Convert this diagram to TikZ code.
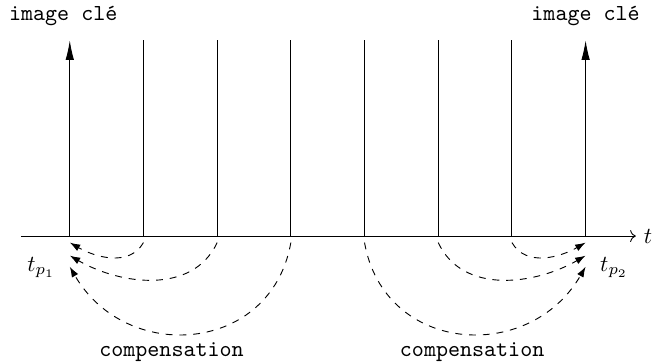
\documentclass[tikz,border=0pt]{standalone}
\usepackage{fontspec}
\usepackage{amsmath}
\usetikzlibrary{calc, arrows, arrows.meta, positioning}
\tikzset{
  keyarrow/.style={-{Latex[length=3mm,width=1.3mm]}, thin},
  frameline/.style={thin},
  compflow/.style={-{Latex[length=1.6mm,width=1.1mm]}, dashed},
  keylabel/.style={font=\ttfamily}
}

\begin{document}
\begin{tikzpicture}
  \useasboundingbox (-1.07,-1.93) rectangle (9.02,3.62);
  % time axis
  \coordinate (start) at (-0.75,0);
  \coordinate (end) at (8.68,0);
  \draw[->] (start) -- (end) node[right] (t) {$t$};
  % frames
  \foreach \i in {0,...,7} {
    \coordinate (p\i) at (\i*1.13,0);
    \coordinate (q\i) at (\i*1.13,3);
    \coordinate (s\i) at (\i*1.13,-0.1);
  }
  \foreach \i in {1,...,6}
    \draw[frameline] (p\i) -- (q\i);
  \draw[keyarrow] (p0) -- (q0);
  \draw[keyarrow] (p7) -- (q7);
  \node[keylabel, above=1mm of q0, xshift=-1mm] (k1) {image clé};
  \node[keylabel, above=1mm of q7] (k2) {image clé};
  \node[below left=2mm and 1mm of p0] (tp1) {$t_{p_1}$};
  \node[below right=2mm and 1mm of p7] (tp2) {$t_{p_2}$};
  % arrow ends
  \coordinate (a1) at (0,-0.1);
  \coordinate (a2) at (0,-0.3);
  \coordinate (a3) at (0,-0.47);
  \coordinate (b1) at (7.91,-0.1);
  \coordinate (b2) at (7.91,-0.3);
  \coordinate (b3) at (7.91,-0.47);
  % compensation, left
  \draw[compflow] (s1) to[out=-120, in=-30] (a1);
  \draw[compflow] (s2) to[out=-115, in=-30] (a2);
  \draw[compflow] (s3) to[out=-100, in=-60, looseness=1.3] (a3);
  % compensation, right
  \draw[compflow] (s6) to[out=-60, in=-150] (b1);
  \draw[compflow] (s5) to[out=-65, in=-150] (b2);
  \draw[compflow] (s4) to[out=-80, in=-120, looseness=1.3] (b3);
  \node[keylabel] (c1) at (1.56,-1.78) {compensation};
  \node[keylabel] (c2) at (6.17,-1.78) {compensation};
\end{tikzpicture}
\end{document}
